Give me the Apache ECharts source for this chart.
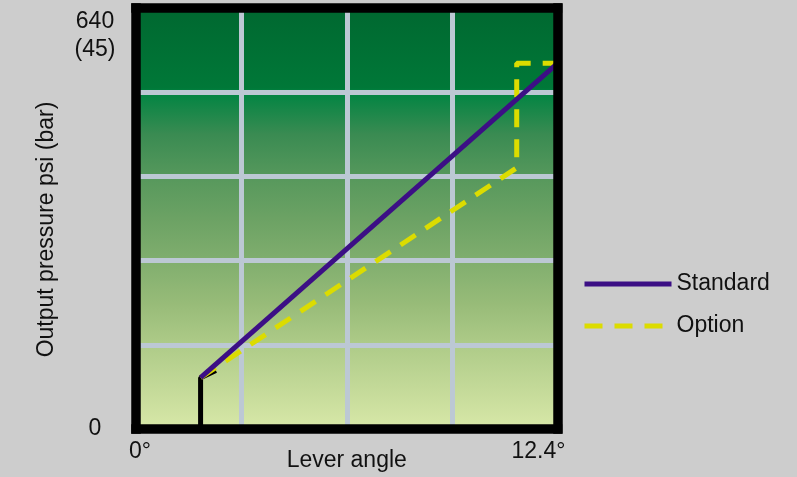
<!DOCTYPE html>
<html>
<head>
<meta charset="utf-8">
<script src="https://cdn.jsdelivr.net/npm/echarts@6/dist/echarts.min.js"></script>
<style>
  html, body { margin: 0; padding: 0; background: #cdcdcd; }
  #chart { width: 797px; height: 477px; }
</style>
</head>
<body>
<div id="chart"></div>
<script>
// ---- data ----
const seriesNames = ['Standard', 'Option'];
const standardPoints = [[1.9, 78], [12.4, 556]];
const optionPoints = [[1.9, 78], [11.2, 397], [11.2, 556], [12.4, 556]];
const startPoints = [[1.9, 0], [1.9, 78], [2.35, 89]];
const xRange = [0, 12.4];
const yRange = [0, 640];
const xTickLabels = { 0: '{mn|0°}', 12.4: '{mx|12.4°}' };
const yTickLabels = { 0: '0', 640: '640\n(45)' };
const xName = 'Lever angle';
const yName = 'Output pressure psi (bar)';

const FONT = "'Liberation Sans', Arial, sans-serif";
const TXT = '#111';
const FS = 23;

function pickLabel(map, v) {
  for (const k in map) { if (Math.abs(Number(k) - v) < 1e-6) return map[k]; }
  return '';
}

const frameLine = { show: true, onZero: false, lineStyle: { color: '#000', width: 9.5, cap: 'square' } };
const frameAxis = (pos) => ({
  type: 'value', position: pos, min: xRange[0], max: xRange[1], z: 10,
  axisLine: frameLine,
  axisTick: { show: false }, axisLabel: { show: false }, splitLine: { show: false }
});
const frameYAxis = (pos) => ({
  type: 'value', position: pos, min: yRange[0], max: yRange[1], z: 10,
  axisLine: frameLine,
  axisTick: { show: false }, axisLabel: { show: false }, splitLine: { show: false }
});

const chart = echarts.init(document.getElementById('chart'), null, { renderer: 'canvas' });
chart.setOption({
  backgroundColor: '#cdcdcd',
  animation: false,
  textStyle: { fontFamily: FONT },
  grid: {
    left: 136, top: 8, width: 421.5, height: 421,
    outerBoundsMode: 'none', containLabel: false,
    show: true, borderWidth: 0,
    backgroundColor: new echarts.graphic.LinearGradient(0, 0, 0, 1, [
      { offset: 0.00, color: '#006830' },
      { offset: 0.19, color: '#007838' },
      { offset: 0.20, color: '#008442' },
      { offset: 0.30, color: '#3a8b52' },
      { offset: 0.40, color: '#56985c' },
      { offset: 0.50, color: '#6ca264' },
      { offset: 0.60, color: '#80ae6e' },
      { offset: 0.70, color: '#97bb78' },
      { offset: 0.80, color: '#aecb88' },
      { offset: 0.90, color: '#c3d998' },
      { offset: 1.00, color: '#d8e8a8' }
    ])
  },
  legend: {
    orient: 'vertical', left: 582, top: 271, padding: 0,
    data: seriesNames,
    itemWidth: 87, itemHeight: 14, itemGap: 16,
    itemStyle: { opacity: 0 },
    lineStyle: { width: 5 },
    textStyle: { color: TXT, fontSize: FS, fontFamily: FONT, lineHeight: 26 },
    selectedMode: false
  },
  xAxis: [
    {
      type: 'value', position: 'bottom', min: xRange[0], max: xRange[1], interval: 3.1, z: 0,
      name: xName, nameLocation: 'middle', nameGap: 20, nameMoveOverlap: false,
      nameTextStyle: { color: TXT, fontSize: FS, fontFamily: FONT },
      axisLine: { show: false, onZero: false }, axisTick: { show: false },
      axisLabel: {
        show: true, showMinLabel: true, showMaxLabel: true, margin: 11,
        color: TXT, fontSize: FS, fontFamily: FONT,
        alignMinLabel: 'center', alignMaxLabel: 'center',
        formatter: (v) => pickLabel(xTickLabels, v),
        rich: {
          mn: { color: TXT, fontSize: FS, fontFamily: FONT, padding: [0, 0, 0, 8] },
          mx: { color: TXT, fontSize: FS, fontFamily: FONT, padding: [0, 38, 0, 0] }
        }
      },
      splitLine: { show: true, lineStyle: { color: '#bcc8d4', width: 5 } }
    },
    frameAxis('top'),
    frameAxis('bottom')
  ],
  yAxis: [
    {
      type: 'value', position: 'left', min: yRange[0], max: yRange[1], interval: 128, z: 0,
      name: yName, nameLocation: 'middle', nameGap: 78, nameRotate: 90, nameMoveOverlap: false,
      nameTextStyle: { color: TXT, fontSize: FS, fontFamily: FONT, padding: [0, 22, 0, 0] },
      axisLine: { show: false, onZero: false }, axisTick: { show: false },
      axisLabel: {
        show: true, showMinLabel: true, showMaxLabel: true, margin: 41, align: 'center',
        color: TXT, fontSize: FS, fontFamily: FONT, lineHeight: 27.5,
        verticalAlignMaxLabel: 'top',
        formatter: (v) => pickLabel(yTickLabels, v)
      },
      splitLine: { show: true, lineStyle: { color: '#bcc8d4', width: 5 } }
    },
    frameYAxis('left'),
    frameYAxis('right')
  ],
  series: [
    {
      name: 'start', type: 'line', data: startPoints, symbol: 'none', z: 2,
      lineStyle: { color: '#000', width: 5 }, itemStyle: { color: '#000' }
    },
    {
      name: seriesNames[1], type: 'line', data: optionPoints, symbol: 'none', z: 3,
      lineStyle: { color: '#dcdc00', width: 5, type: [18, 12] }, itemStyle: { color: '#dcdc00' }
    },
    {
      name: seriesNames[0], type: 'line', data: standardPoints, symbol: 'none', z: 4,
      lineStyle: { color: '#3c0f85', width: 5 }, itemStyle: { color: '#3c0f85' }
    }
  ]
});
</script>
</body>
</html>
